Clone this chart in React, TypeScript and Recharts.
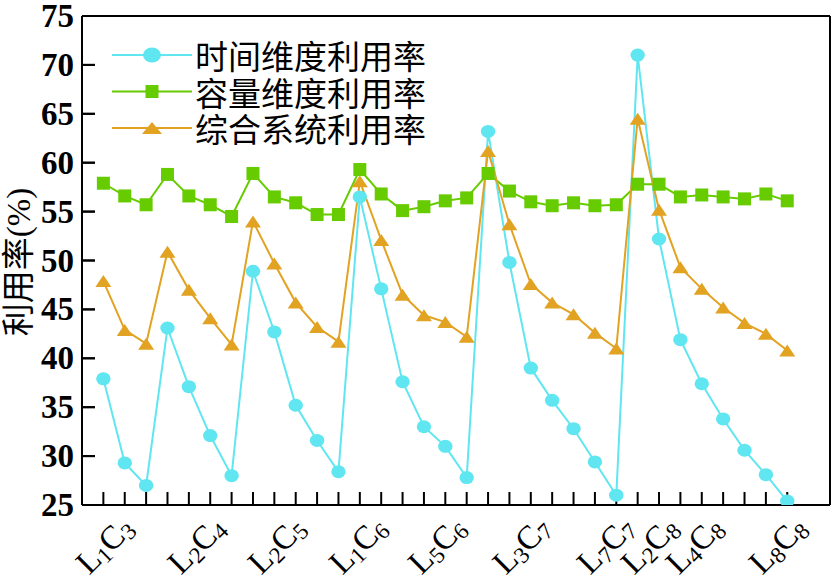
import { LineChart, Line, XAxis, YAxis, ReferenceLine } from 'recharts';

// 时间维度利用率
const timeUtil = [
  37.9, 29.3, 27.0, 43.1, 37.1, 32.1, 28.0, 48.9, 42.7, 35.2, 31.6, 28.4, 56.5,
  47.1, 37.6, 33.0, 31.0, 27.8, 63.2, 49.8, 39.0, 35.7, 32.8, 29.4, 26.0, 71.0,
  52.2, 41.9, 37.4, 33.8, 30.6, 28.1, 25.4,
];
// 容量维度利用率
const capUtil = [
  57.9, 56.6, 55.7, 58.8, 56.6, 55.7, 54.5, 58.9, 56.5, 55.9, 54.7, 54.7, 59.3,
  56.8, 55.1, 55.5, 56.1, 56.4, 58.9, 57.1, 56.0, 55.6, 55.9, 55.6, 55.7, 57.8,
  57.8, 56.5, 56.7, 56.5, 56.3, 56.8, 56.1,
];
// 综合系统利用率
const sysUtil = [
  47.9, 42.9, 41.5, 50.9, 47.0, 44.1, 41.4, 54.0, 49.7, 45.7, 43.2, 41.7, 58.1,
  52.1, 46.5, 44.4, 43.7, 42.2, 61.2, 53.7, 47.6, 45.7, 44.5, 42.6, 41.0, 64.5,
  55.2, 49.3, 47.1, 45.2, 43.6, 42.5, 40.8,
];

const labelNames = ['L1C3', 'L2C4', 'L2C5', 'L1C6', 'L5C6', 'L3C7', 'L7C7', 'L2C8', 'L4C8', 'L8C8'];
const labelPos = [1.05, 5.35, 9.1, 12.9, 16.6, 20.55, 24.5, 26.55, 28.65, 32.55];
const yTicks = [25, 30, 35, 40, 45, 50, 55, 60, 65, 70, 75];

const CYAN = '#5fe6f0';
const GREEN = '#66cc00';
const ORANGE = '#e2a222';
const SERIF = '"Liberation Serif", "Times New Roman", serif';
const CJK = '"Noto Sans CJK SC", "Noto Sans", sans-serif';
const AXIS = { stroke: '#000', strokeWidth: 2 };
const TICK_LEN = 13;
const Y_LABEL_GAP = 8;

const data = timeUtil.map((v, i) => ({
  x: i + 1,
  time: v,
  cap: capUtil[i],
  sys: sysUtil[i],
}));
const xTicks = data.map((d) => d.x);

const series = [
  { key: 'time', name: '时间维度利用率', color: CYAN, shape: 'circle' },
  { key: 'cap', name: '容量维度利用率', color: GREEN, shape: 'square' },
  { key: 'sys', name: '综合系统利用率', color: ORANGE, shape: 'triangle' },
];

function Marker({ cx, cy, shape, color, big = false }: any) {
  if (cx == null || cy == null) return null;
  if (shape === 'circle') {
    return <ellipse cx={cx} cy={cy} rx={big ? 9 : 7.2} ry={big ? 7.5 : 6.5} fill={color} />;
  }
  if (shape === 'square') {
    const s = 13;
    return <rect x={cx - s / 2} y={cy - s / 2} width={s} height={s} fill={color} />;
  }
  const w = big ? 20 : 16;
  const h = 12;
  return (
    <polygon
      points={`${cx},${cy - h / 2} ${cx - w / 2},${cy + h / 2} ${cx + w / 2},${cy + h / 2}`}
      fill={color}
    />
  );
}

const noTick = () => <g />;

// inward tick on the left axis: just the start of a horizontal reference line
function YTickMark(p: any) {
  return <line x1={p.x1} x2={p.x1 + TICK_LEN} y1={p.y1} y2={p.y1} stroke="#000" strokeWidth={2} />;
}

function renderYTick({ x, y, payload }: any) {
  const axisX = x + Y_LABEL_GAP;
  return (
    <g>
      <line x1={axisX} x2={axisX + TICK_LEN} y1={y} y2={y} stroke="#000" strokeWidth={2} />
      <text
        x={x}
        y={y}
        textAnchor="end"
        dominantBaseline="central"
        fontFamily={SERIF}
        fontWeight="bold"
        fontSize={33}
        fill="#000"
      >
        {payload.value}
      </text>
    </g>
  );
}

function renderXLabel({ x, y, payload }: any) {
  const i = labelPos.indexOf(payload.value);
  const name = labelNames[i] ?? '';
  const m = name.match(/L(\d)C(\d)/);
  if (!m) return <g />;
  return (
    <g transform={`translate(${x},${y + 40}) rotate(-45)`}>
      <text
        x={0}
        y={0}
        textAnchor="middle"
        dominantBaseline="central"
        fontFamily={SERIF}
        fontSize={33}
        fill="#000"
      >
        <tspan>L</tspan>
        <tspan fontSize={23} dy={7}>
          {m[1]}
        </tspan>
        <tspan dy={-7}>C</tspan>
        <tspan fontSize={23} dy={7}>
          {m[2]}
        </tspan>
      </text>
    </g>
  );
}

function Overlay() {
  const tx = 19;
  const ty = 262;
  return (
    <svg
      width={835}
      height={578}
      style={{ position: 'absolute', left: 0, top: 0, pointerEvents: 'none' }}
    >
      <text
        x={tx}
        y={ty}
        textAnchor="middle"
        dominantBaseline="central"
        fontFamily={`${SERIF}, ${CJK}`}
        fontSize={33}
        fill="#000"
        transform={`rotate(-90 ${tx} ${ty})`}
      >
        利用率(%)
      </text>
      <g transform="translate(100,30)">
        {series.map((s, i) => {
          const cy = 25 + i * 36.5;
          return (
            <g key={s.key}>
              <line x1={12} x2={92} y1={cy} y2={cy} stroke={s.color} strokeWidth={2} />
              <Marker cx={52} cy={cy} shape={s.shape} color={s.color} big />
              <text
                x={95}
                y={cy}
                dominantBaseline="central"
                fontFamily={CJK}
                fontSize={33}
                fill="#000"
              >
                {s.name}
              </text>
            </g>
          );
        })}
      </g>
    </svg>
  );
}

export default function App() {
  return (
    <div style={{ position: 'absolute', left: 0, top: 0, width: 835, height: 578, background: '#fff' }}>
      <LineChart
        width={835}
        height={578}
        data={data}
        margin={{ top: 15, right: 4, left: 0, bottom: 0 }}
      >
        <XAxis
          xAxisId="a_ticks"
          dataKey="x"
          type="number"
          domain={[0, 35]}
          allowDataOverflow
          ticks={xTicks}
          interval={0}
          mirror
          tick={noTick}
          tickSize={TICK_LEN}
          height={1}
          axisLine={AXIS}
          tickLine={AXIS}
        />
        <XAxis
          xAxisId="b_labels"
          dataKey="x"
          type="number"
          domain={[0, 35]}
          allowDataOverflow
          ticks={labelPos}
          interval={0}
          height={73}
          axisLine={false}
          tickLine={false}
          tickSize={0}
          tickMargin={0}
          tick={renderXLabel}
        />
        <XAxis
          xAxisId="top"
          dataKey="x"
          orientation="top"
          type="number"
          domain={[0, 35]}
          allowDataOverflow
          ticks={[0, 35]}
          height={1}
          tick={noTick}
          tickLine={false}
          axisLine={AXIS}
        />
        <YAxis
          yAxisId="left"
          type="number"
          domain={[25, 75]}
          allowDataOverflow
          ticks={yTicks}
          interval={0}
          width={82}
          tickSize={0}
          tickMargin={Y_LABEL_GAP}
          axisLine={AXIS}
          tickLine={false}
          tick={renderYTick}
        />
        <YAxis
          yAxisId="right"
          orientation="right"
          type="number"
          domain={[25, 75]}
          allowDataOverflow
          ticks={[25, 75]}
          width={1}
          tick={noTick}
          tickLine={false}
          axisLine={AXIS}
        />
        {yTicks.slice(1, -1).map((v) => (
          <ReferenceLine
            key={`yt-${v}`}
            xAxisId="a_ticks"
            yAxisId="left"
            y={v}
            stroke="#000"
            shape={YTickMark}
          />
        ))}
        {series.map((s) => (
          <Line
            key={s.key}
            xAxisId="a_ticks"
            yAxisId="left"
            dataKey={s.key}
            name={s.name}
            type="linear"
            stroke={s.color}
            strokeWidth={2}
            isAnimationActive={false}
            dot={(p: any) => (
              <Marker key={`${s.key}-${p.index}`} cx={p.cx} cy={p.cy} shape={s.shape} color={s.color} />
            )}
            activeDot={false}
          />
        ))}
      </LineChart>
      <Overlay />
    </div>
  );
}
